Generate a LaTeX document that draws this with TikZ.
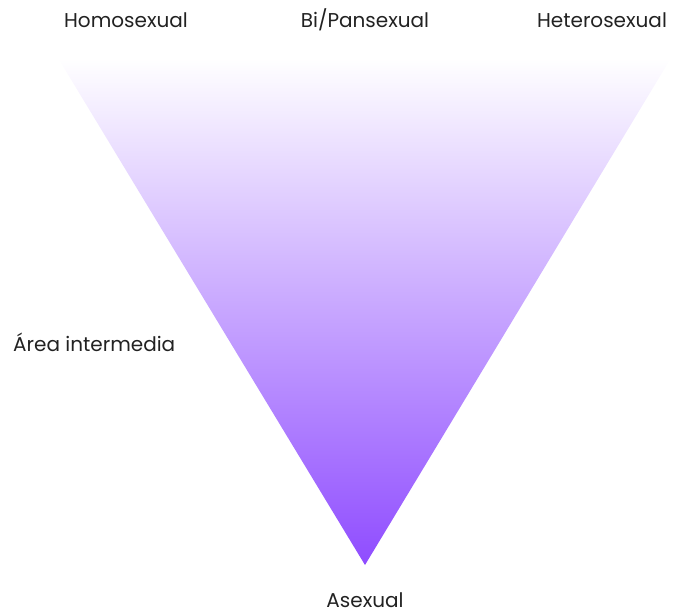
\documentclass[tikz,border=0pt]{standalone}
\usepackage{fontspec}
\setmainfont{Poppins}
\definecolor{tri}{HTML}{8F4CFF}
\definecolor{txt}{HTML}{222222}
\begin{document}
\begin{tikzpicture}[x=1pt,y=-1pt,
  lab/.style={font=\fontsize{20}{24}\selectfont, text=txt, inner sep=0pt}]
\useasboundingbox (0,0) rectangle (673,613);
\coordinate (tl) at (58,58);
\coordinate (tr) at (671,58);
\coordinate (bt) at (365,565);
\shade[top color=white, bottom color=tri] (tl) -- (tr) -- (bt) -- cycle;
\node[lab] (homo) at (126,20) {Homosexual};
\node[lab] (bi) at (365,20) {Bi/Pansexual};
\node[lab] (hetero) at (602,20) {Heterosexual};
\node[lab, anchor=west] (area) at (13,342) {Área intermedia};
\node[lab] (ase) at (365,600) {Asexual};
\end{tikzpicture}
\end{document}
